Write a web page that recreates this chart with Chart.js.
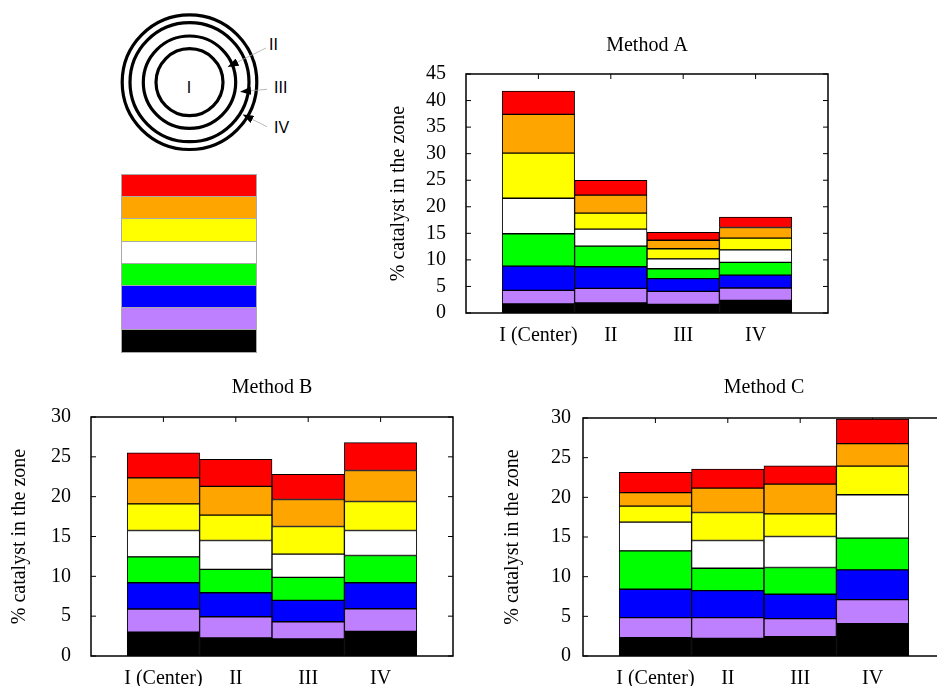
<!DOCTYPE html>
<html>
<head>
<meta charset="utf-8">
<script src="https://cdn.jsdelivr.net/npm/chart.js@4.4.1/dist/chart.umd.min.js"></script>
<style>
  html, body { margin: 0; padding: 0; background: #fff; width: 937px; height: 686px; overflow: hidden; }
  canvas, svg { position: absolute; }
  #stack { position: absolute; left: 121px; top: 175px; width: 136px; }
  #stack div { height: 23.2px; box-sizing: border-box; border: 1px solid #aaa; margin-top: -1px; }
</style>
</head>
<body>

<svg width="330" height="160" style="left:0;top:0" font-family="'Liberation Sans', Arial, sans-serif" font-size="16">
  <defs>
    <marker id="head" markerWidth="11" markerHeight="8" refX="10" refY="4" orient="auto" markerUnits="userSpaceOnUse">
      <path d="M0,0 L11,4 L0,8 z" fill="#000"/>
    </marker>
  </defs>
  <g fill="none" stroke="#000" stroke-width="3.2">
    <circle cx="189.5" cy="82.2" r="33.5"/>
    <circle cx="189.5" cy="82.2" r="46.2"/>
    <circle cx="189.5" cy="82.2" r="59.5"/>
    <circle cx="189.5" cy="82.2" r="67.3"/>
  </g>
  <g stroke="#aaa" stroke-width="0.8">
    <line x1="266" y1="48" x2="228.5" y2="66.5" marker-end="url(#head)"/>
    <line x1="267" y1="89.3" x2="241" y2="91.7" marker-end="url(#head)"/>
    <line x1="267" y1="126.7" x2="243.5" y2="115" marker-end="url(#head)"/>
  </g>
  <text x="189" y="93" text-anchor="middle">I</text>
  <text x="269" y="49.5">II</text>
  <text x="274" y="93">III</text>
  <text x="274" y="133">IV</text>
</svg>

<div id="stack"></div>

<canvas id="chartA" width="452" height="330" style="left:380px;top:30px"></canvas>
<canvas id="chartB" width="457" height="326" style="left:0px;top:360px"></canvas>
<canvas id="chartC" width="459" height="326" style="left:490px;top:360px"></canvas>

<script>
const zones = ['I (Center)', 'II', 'III', 'IV'];
// layers from bottom to top of each stack
const layerColors = ['#000000', '#bf80ff', '#0000ff', '#00ff00', '#ffffff', '#ffff00', '#ffa500', '#ff0000'];

// % catalyst per layer, one row per zone (bottom layer first)
const methodA = [
  [1.70, 2.56, 4.58, 6.08, 6.68, 8.50, 7.30, 4.40],
  [1.88, 2.76, 4.07, 3.89, 3.20, 3.00, 3.40, 2.80],
  [1.63, 2.44, 2.39, 1.88, 1.86, 1.90, 1.60, 1.50],
  [2.38, 2.32, 2.44, 2.39, 2.37, 2.20, 2.00, 1.95]
];
const methodB = [
  [3.00, 2.90, 3.30, 3.25, 3.30, 3.35, 3.26, 3.14],
  [2.26, 2.67, 3.01, 2.93, 3.63, 3.18, 3.62, 3.40],
  [2.13, 2.17, 2.68, 2.88, 2.93, 3.47, 3.38, 3.16],
  [3.09, 2.84, 3.26, 3.43, 3.13, 3.64, 3.89, 3.51]
];
const methodC = [
  [2.31, 2.53, 3.57, 4.84, 3.62, 2.02, 1.71, 2.54],
  [2.23, 2.61, 3.41, 2.81, 3.50, 3.53, 3.07, 2.40],
  [2.44, 2.27, 3.07, 3.37, 3.91, 2.86, 3.75, 2.31],
  [4.08, 3.03, 3.74, 4.00, 5.47, 3.62, 2.82, 3.11]
];

// colour key next to the rings, top layer first
let stack = document.getElementById('stack');
layerColors.slice().reverse().forEach(c => {
  let d = document.createElement('div');
  d.style.background = c;
  stack.appendChild(d);
});

Chart.defaults.font.family = "'Liberation Serif', 'Times New Roman', serif";
Chart.defaults.font.size = 20;
Chart.defaults.color = '#000';

// gnuplot style box with inward ticks
const frame = {
  id: 'frame',
  beforeDatasetsDraw(chart) {
    const {ctx, chartArea: a, scales} = chart;
    ctx.save();
    ctx.strokeStyle = '#000';
    ctx.lineWidth = 1;
    ctx.beginPath();
    scales.y.ticks.forEach(t => {
      let py = scales.y.getPixelForValue(t.value);
      ctx.moveTo(a.left, py); ctx.lineTo(a.left + 5, py);
      ctx.moveTo(a.right, py); ctx.lineTo(a.right - 5, py);
    });
    scales.x.ticks.forEach(t => {
      let px = scales.x.getPixelForValue(t.value);
      ctx.moveTo(px, a.top); ctx.lineTo(px, a.top + 5);
      ctx.moveTo(px, a.bottom); ctx.lineTo(px, a.bottom - 5);
    });
    ctx.stroke();
    ctx.restore();
  },
  afterDatasetsDraw(chart) {
    const {ctx, chartArea: a} = chart;
    ctx.save();
    ctx.strokeStyle = '#000';
    ctx.lineWidth = 1.5;
    ctx.strokeRect(a.left, a.top, a.right - a.left, a.bottom - a.top);
    ctx.restore();
  }
};

function drawMethod(id, title, rows, yMax, box) {
  let datasets = layerColors.map((color, k) => ({
    data: rows.map((r, i) => ({ x: i, y: r[k] })),
    backgroundColor: color,
    borderColor: '#000',
    borderWidth: 1,
    borderSkipped: false,
    barPercentage: 1,
    categoryPercentage: 1
  }));

  new Chart(document.getElementById(id), {
    type: 'bar',
    data: { datasets: datasets },
    plugins: [frame],
    options: {
      responsive: false,
      animation: false,
      layout: { padding: { right: 4 } },
      plugins: { legend: { display: false }, tooltip: { enabled: false } },
      scales: {
        x: {
          type: 'linear',
          min: -1,
          max: 4,
          offset: false,
          stacked: true,
          grid: { display: false, offset: false },
          border: { display: false },
          afterBuildTicks: s => { s.ticks = zones.map((z, i) => ({ value: i })); },
          afterFit: s => { s.height = box.bottomH; },
          ticks: { autoSkip: false, maxRotation: 0, padding: 3, callback: v => zones[v] }
        },
        x2: {
          type: 'linear',
          position: 'top',
          min: -1,
          max: 4,
          offset: false,
          grid: { display: false },
          border: { display: false },
          ticks: { display: false },
          afterFit: s => { s.height = box.topH; },
          title: { display: true, text: title, padding: { top: box.titlePad, bottom: 0 } }
        },
        y: {
          min: 0,
          max: yMax,
          stacked: true,
          grid: { display: false },
          border: { display: false },
          ticks: { stepSize: 5, autoSkip: false, padding: box.tickPad },
          afterFit: s => { s.width = box.yW; },
          title: { display: true, text: '% catalyst in the zone', padding: { top: box.yTitlePad, bottom: 0 } }
        }
      }
    }
  });
}

drawMethod('chartA', 'Method A', methodA, 45, { yW: 86, topH: 44, bottomH: 47, titlePad: 4, yTitlePad: 7, tickPad: 12 });
drawMethod('chartB', 'Method B', methodB, 30, { yW: 91, topH: 57, bottomH: 30, titlePad: 16, yTitlePad: 8, tickPad: 12 });
drawMethod('chartC', 'Method C', methodC, 30, { yW: 93, topH: 58, bottomH: 30, titlePad: 16, yTitlePad: 11, tickPad: 4 });
</script>
</body>
</html>
